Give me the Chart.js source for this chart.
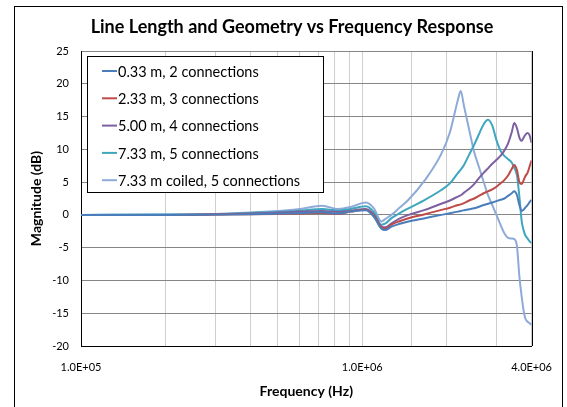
<!DOCTYPE html>
<html>
<head>
<meta charset="utf-8">
<script src="https://cdn.jsdelivr.net/npm/chart.js@4.4.1/dist/chart.umd.min.js"></script>
<style>
  html, body { margin: 0; padding: 0; background: #fff; overflow: hidden; }
  #wrap { position: relative; width: 567px; height: 407px; }
  #frame { position: absolute; left: 14px; top: 6px; width: 549px; height: 430px; border: 1px solid #000; box-sizing: border-box; pointer-events: none; }
  canvas { position: absolute; left: 0; top: 0; }
</style>
</head>
<body>
<div id="wrap">
  <canvas id="chart" width="567" height="407"></canvas>
  <div id="frame"></div>
</div>
<script>
const FONT = "Lato, 'Open Sans', sans-serif";

const TITLE = "Line Length and Geometry vs Frequency Response";
const X_TITLE = "Frequency (Hz)";
const Y_TITLE = "Magnitude (dB)";

// frequencies shared by every trace (Hz)
const freqHz = [1e5, 2e5, 3e5, 4e5, 5e5, 6e5, 7.2e5, 8.2e5, 9.1e5, 1.03e6,
  1.1e6, 1.17e6, 1.21e6, 1.27e6, 1.35e6, 1.46e6, 1.67e6, 1.91e6, 2.05e6, 2.19e6,
  2.24e6, 2.3e6, 2.4e6, 2.5e6, 2.6e6, 2.7e6, 2.8e6, 2.9e6, 3.0e6, 3.1e6,
  3.2e6, 3.3e6, 3.4e6, 3.47e6, 3.55e6, 3.62e6, 3.69e6, 3.75e6, 3.8e6, 3.87e6,
  3.93e6, 4e6];

const seriesNames = ["0.33 m, 2 connections", "2.33 m, 3 connections", "5.00 m, 4 connections",
  "7.33 m, 5 connections", "7.33 m coiled, 5 connections"];
const seriesColors = ["#4a7ebb", "#be4b48", "#7d60a0", "#3ea6be", "#8eaad8"];

const db033m = [0, 0, 0.05, 0.1, 0.2, 0.3, 0.4, 0.2, 0.5, 0.7,
  -0.3, -2.1, -2.3, -1.8, -1.4, -1.0, -0.5, 0.0, 0.25, 0.5,
  0.6, 0.7, 0.85, 1.0, 1.25, 1.5, 1.7, 1.9, 2.1, 2.3,
  2.5, 2.9, 3.3, 3.6, 3.0, 1.5, 0.6, 0.8, 1.1, 1.5,
  1.9, 2.3];
const db233m = [0, 0, 0.05, 0.1, 0.15, 0.2, 0.3, 0.15, 0.5, 0.8,
  -0.1, -1.9, -2.1, -1.5, -1.0, -0.5, 0.1, 0.76, 1.1, 1.5,
  1.6, 1.8, 2.2, 2.5, 2.9, 3.3, 3.6, 3.9, 4.3, 4.8,
  5.3, 6.0, 7.0, 7.6, 6.8, 5.0, 4.7, 5.3, 5.9, 6.4,
  7.3, 8.3];
const db500m = [0, 0, 0.1, 0.2, 0.35, 0.5, 0.6, 0.45, 0.65, 0.9,
  0.0, -1.8, -1.9, -1.3, -0.6, 0.0, 0.76, 1.7, 2.2, 2.8,
  3.0, 3.4, 4.0, 4.7, 5.6, 6.4, 7.1, 7.8, 8.4, 9.0,
  9.8, 10.9, 12.6, 14.0, 13.2, 11.8, 11.3, 11.8, 12.2, 12.5,
  12.2, 11.0];
const db733m = [0, 0.05, 0.1, 0.3, 0.45, 0.65, 0.9, 0.65, 0.9, 1.3,
  0.4, -1.5, -1.3, -0.5, 0.2, 1.0, 2.3, 3.8, 4.8, 6.4,
  6.9, 7.6, 9.2, 10.7, 12.3, 13.8, 14.5, 13.6, 11.4, 9.8,
  9.0, 8.5, 8.0, 7.2, 6.0, 2.8, -1.0, -2.4, -3.1, -3.6,
  -4.0, -4.3];
const db733mCoiled = [0, 0.05, 0.15, 0.35, 0.6, 0.9, 1.4, 0.9, 1.2, 1.9,
  1.0, -1.0, -0.6, 0.0, 1.0, 2.3, 5.3, 9.3, 12.6, 17.6,
  18.9, 16.6, 13.0, 9.6, 7.3, 5.1, 3.0, 1.5, 0.0, -1.5,
  -2.8, -3.5, -3.6, -3.7, -4.8, -9.4, -12.5, -14.7, -15.8, -16.3,
  -16.5, -16.8];

const xTickValues = [1e5, 1e6, 4e6];
const xTickLabels = ["1.0E+05", "1.0E+06", "4.0E+06"];
const yMin = -20, yMax = 25, yStep = 5;

const allSeries = [db033m, db233m, db500m, db733m, db733mCoiled];

const datasets = allSeries.map((vals, i) => ({
  label: seriesNames[i],
  data: vals.map((v, k) => ({ x: freqHz[k], y: v })),
  borderColor: seriesColors[i],
  backgroundColor: seriesColors[i],
  borderWidth: 2,
  pointRadius: 0,
  cubicInterpolationMode: "monotone",
  fill: false,
}));

// title, legend box and right frame line, drawn on the chart canvas
const extras = {
  id: "extras",
  afterDraw(chart) {
    const ctx = chart.ctx;
    const area = chart.chartArea;
    ctx.save();
    ctx.strokeStyle = "#000";
    ctx.lineWidth = 1;
    ctx.beginPath();
    ctx.moveTo(Math.round(area.right) + 0.5, area.top);
    ctx.lineTo(Math.round(area.right) + 0.5, area.bottom);
    ctx.stroke();

    ctx.fillStyle = "#000";
    ctx.font = "bold 18px " + FONT;
    ctx.textAlign = "center";
    ctx.textBaseline = "middle";
    ctx.fillText(TITLE, 292, 27);

    // legend
    ctx.fillStyle = "#fff";
    ctx.fillRect(87.5, 56.5, 236, 136);
    ctx.strokeStyle = "#000";
    ctx.strokeRect(87.5, 56.5, 236, 136);
    ctx.textAlign = "left";
    ctx.font = "14.5px " + FONT;
    chart.data.datasets.forEach((ds, i) => {
      const y = 71 + i * 27.3;
      ctx.strokeStyle = ds.borderColor;
      ctx.lineWidth = 2;
      ctx.beginPath();
      ctx.moveTo(102, y);
      ctx.lineTo(117, y);
      ctx.stroke();
      ctx.fillStyle = "#000";
      ctx.fillText(ds.label, 118, y + 1);
    });
    ctx.restore();
  }
};

new Chart(document.getElementById("chart"), {
  type: "line",
  data: { datasets },
  plugins: [extras],
  options: {
    responsive: false,
    animation: false,
    layout: { padding: { top: 51, right: 33, left: 26, bottom: 0 } },
    plugins: { legend: { display: false }, title: { display: false }, tooltip: { enabled: false } },
    scales: {
      x: {
        type: "logarithmic",
        min: 1e5,
        max: 4e6,
        afterFit: (s) => { s.height = 61; },
        grid: { color: "#cfcfcf", drawTicks: false },
        border: { color: "#000", width: 1 },
        ticks: {
          autoSkip: false,
          maxRotation: 0,
          padding: 15,
          color: "#000",
          font: { family: FONT, size: 11 },
          callback: (v) => {
            const k = xTickValues.findIndex((t) => Math.abs(t - v) < 1);
            return k >= 0 ? xTickLabels[k] : "";
          },
        },
        title: { display: true, text: X_TITLE, color: "#000", font: { family: FONT, size: 14, weight: "bold" }, padding: { top: 0, bottom: 7 } },
      },
      y: {
        min: yMin,
        max: yMax,
        afterFit: (s) => { s.width = 55; },
        grid: { color: "#868686", drawTicks: false },
        border: { color: "#000", width: 1 },
        ticks: { stepSize: yStep, padding: 12, color: "#000", font: { family: FONT, size: 11 } },
        title: { display: true, text: Y_TITLE, color: "#000", font: { family: FONT, size: 14, weight: "bold" }, padding: { top: 2, bottom: 0 } },
      },
    },
  },
});
</script>
</body>
</html>
